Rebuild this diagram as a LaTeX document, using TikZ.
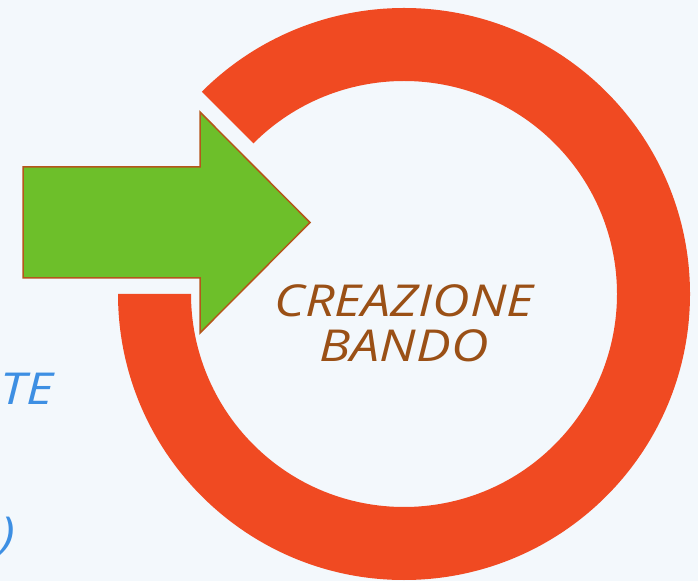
\documentclass[tikz,border=0pt]{standalone}
\usepackage{fontspec}
\newfontfamily\handfont[FakeStretch=1.18]{Open Sans}
\definecolor{bgpale}{HTML}{F3F8FC}
\definecolor{ringred}{HTML}{F04A22}
\definecolor{arrowgreen}{HTML}{6DBF2A}
\definecolor{arrowbrown}{HTML}{B5561B}
\definecolor{textbrown}{HTML}{9A5016}
\definecolor{textblue}{HTML}{3D8FE3}
\tikzset{
  hand/.style={font=\handfont\itshape\fontsize{44}{45}\selectfont, inner sep=0pt},
}
\begin{document}
\begin{tikzpicture}[x=1pt, y=1pt]
        \fill[bgpale] (0,0) rectangle (698,581);
        \useasboundingbox (0,0) rectangle (698,581);
        % ring with a gap at the upper left
        \fill[ringred] (404,287) ++(180:286) arc[start angle=180, end angle=495, radius=286]
            -- ++(315:73) arc[start angle=495, end angle=180, radius=213] -- cycle;
        % green arrow
        \draw[arrowbrown, fill=arrowgreen, line width=1.5pt, line join=miter]
            (23,414) -- (200,414) -- (200,469) -- (310,358.5) -- (200,248) -- (200,303) -- (23,303) -- cycle;
        \node[hand, textbrown, align=center] (title) at (404,258) {CREAZIONE\\BANDO};
        % cut text at the left border
        \node[hand, textblue, anchor=base west] (partone) at (0,176) {TE};
        \node[hand, textblue, anchor=base west] (parttwo) at (0,33) {)};
\end{tikzpicture}
\end{document}
